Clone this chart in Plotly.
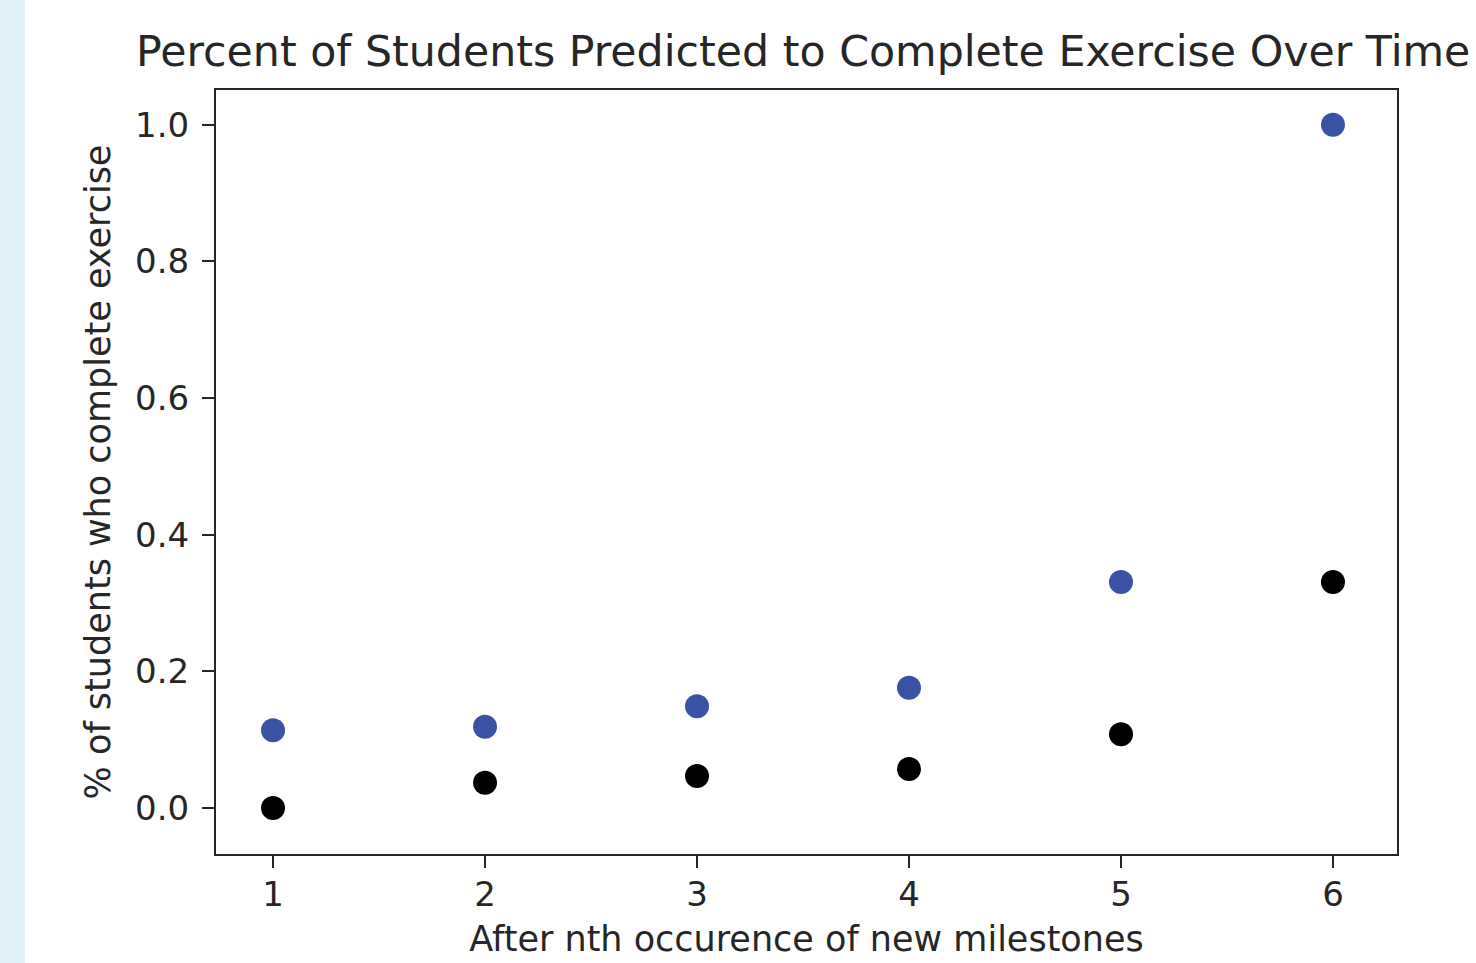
import plotly.graph_objects as go

milestones = [1, 2, 3, 4, 5, 6]
predicted_blue = [0.114, 0.119, 0.149, 0.176, 0.331, 1.0]
actual_black = [0.0, 0.037, 0.047, 0.057, 0.108, 0.331]
x_ticks = [1, 2, 3, 4, 5, 6]
y_ticks = [0.0, 0.2, 0.4, 0.6, 0.8, 1.0]
y_tick_labels = ["0.0", "0.2", "0.4", "0.6", "0.8", "1.0"]

W, H = 1476, 963
L, R, T, B = 216, 79, 90, 109
pw = W - L - R

fig = go.Figure()
fig.add_trace(go.Scatter(x=milestones, y=predicted_blue, mode="markers",
                         marker=dict(color="#3953a4", size=24), showlegend=False))
fig.add_trace(go.Scatter(x=milestones, y=actual_black, mode="markers",
                         marker=dict(color="#000000", size=24), showlegend=False))

txt = "#262626"
fig.update_layout(
    width=W, height=H,
    margin=dict(l=L, r=R, t=T, b=B),
    paper_bgcolor="white", plot_bgcolor="white",
    font=dict(family="DejaVu Sans", size=34, color=txt),
    shapes=[dict(type="rect", xref="paper", yref="paper",
                 x0=-L / pw, x1=(25 - L) / pw, y0=-2, y1=2,
                 fillcolor="#dff0f6", line=dict(width=0), layer="below")],
    annotations=[dict(text="Percent of Students Predicted to Complete Exercise Over Time",
                      xref="paper", yref="paper", x=0.5, y=1, xanchor="center",
                      yanchor="bottom", yshift=12, xshift=-4, showarrow=False,
                      font=dict(size=42.7, color=txt))],
    xaxis=dict(range=[0.731, 6.302], tickvals=x_ticks, ticks="outside", ticklen=12,
               tickwidth=2, tickcolor=txt, showgrid=False, zeroline=False,
               showline=True, linecolor=txt, linewidth=2, mirror=True,
               ticklabelstandoff=-3,
               title=dict(text="After nth occurence of new milestones", standoff=14,
                          font=dict(size=35))),
    yaxis=dict(range=[-0.0673, 1.051], tickvals=y_ticks, ticktext=y_tick_labels,
               ticks="outside", ticklen=12, tickwidth=2, tickcolor=txt,
               showgrid=False, zeroline=False, ticklabelstandoff=6,
               showline=True, linecolor=txt, linewidth=2, mirror=True,
               title=dict(text="% of students who complete exercise", standoff=14,
                          font=dict(size=35))),
)
fig.write_html("out.html")
